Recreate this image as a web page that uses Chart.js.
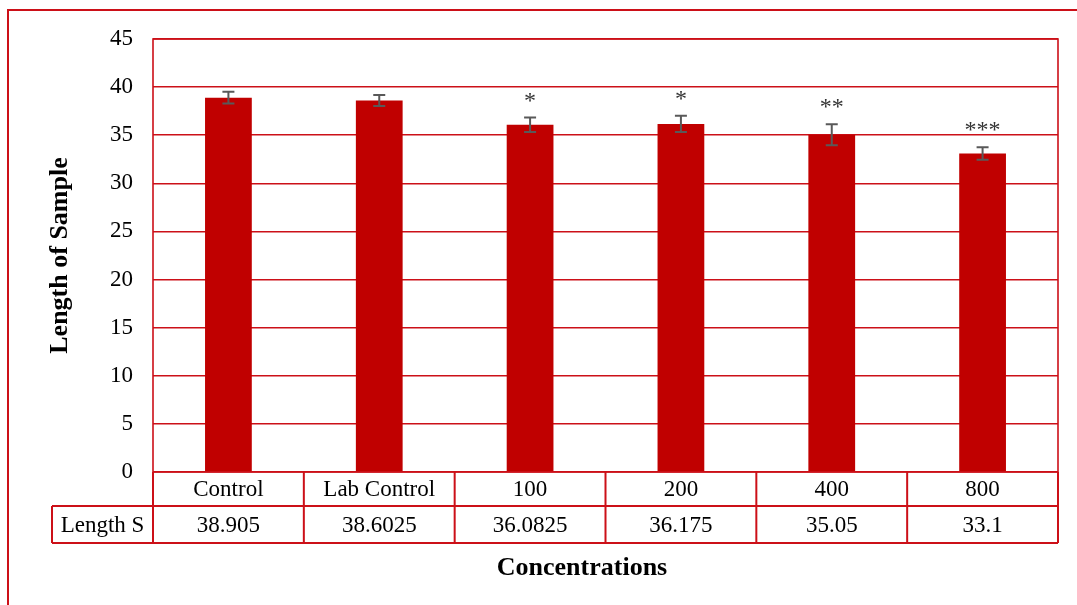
<!DOCTYPE html>
<html>
<head>
<meta charset="utf-8">
<script src="https://cdn.jsdelivr.net/npm/chart.js@4"></script>
<style>
  html, body { margin: 0; padding: 0; background: #fff; }
  #wrap { width: 1077px; height: 605px; position: relative; }
</style>
</head>
<body>
<div id="wrap"><canvas id="c" width="1077" height="605"></canvas></div>
<script>
const categories = ['Control', 'Lab Control', '100', '200', '400', '800'];
const lengthS = [38.905, 38.6025, 36.0825, 36.175, 35.05, 33.1];
const errors = [0.6, 0.57, 0.75, 0.85, 1.1, 0.65];
const stars = ['', '', '*', '*', '**', '***'];
const yTicks = [0, 5, 10, 15, 20, 25, 30, 35, 40, 45];

const RED = '#C00000';
const LINE = '#CC1018';
const SERIF = "'Liberation Serif', 'Times New Roman', serif";

// error bars, asterisks, data table and titles
const extras = {
  id: 'extras',
  afterDatasetsDraw(chart) {
    const { ctx, chartArea: a, scales: { x, y } } = chart;
    ctx.save();

    // error bars
    ctx.strokeStyle = '#595959';
    ctx.lineWidth = 2;
    lengthS.forEach((v, i) => {
      const px = x.getPixelForValue(i);
      const top = y.getPixelForValue(v + errors[i]);
      const bot = y.getPixelForValue(v - errors[i]);
      ctx.beginPath();
      ctx.moveTo(px, top); ctx.lineTo(px, bot);
      ctx.moveTo(px - 6, top); ctx.lineTo(px + 6, top);
      ctx.moveTo(px - 6, bot); ctx.lineTo(px + 6, bot);
      ctx.stroke();
      if (stars[i]) {
        ctx.fillStyle = '#333';
        ctx.font = '24px ' + SERIF;
        ctx.textAlign = 'center';
        ctx.textBaseline = 'alphabetic';
        ctx.fillText(stars[i], px, top - 10);
      }
    });

    // plot border
    ctx.strokeStyle = LINE;
    ctx.lineWidth = 1.6;
    ctx.strokeRect(a.left, a.top, a.right - a.left, a.bottom - a.top);

    // data table
    const colW = (a.right - a.left) / categories.length;
    const r1 = a.bottom, r2 = a.bottom + 34, r3 = a.bottom + 71;
    const labelLeft = 52;
    ctx.lineWidth = 2;
    ctx.beginPath();
    ctx.moveTo(labelLeft, r2); ctx.lineTo(a.right, r2);
    ctx.moveTo(labelLeft, r3); ctx.lineTo(a.right, r3);
    ctx.moveTo(labelLeft, r2); ctx.lineTo(labelLeft, r3);
    for (let i = 0; i <= categories.length; i++) {
      const cx = a.left + i * colW;
      ctx.moveTo(cx, r1); ctx.lineTo(cx, r3);
    }
    ctx.stroke();

    ctx.fillStyle = '#000';
    ctx.font = '23px ' + SERIF;
    ctx.textAlign = 'center';
    ctx.textBaseline = 'middle';
    categories.forEach((c, i) => {
      const cx = x.getPixelForValue(i);
      ctx.fillText(c, cx, (r1 + r2) / 2 + 1);
      ctx.fillText(String(lengthS[i]), cx, (r2 + r3) / 2 + 1);
    });
    ctx.fillText('Length S', (labelLeft + a.left) / 2, (r2 + r3) / 2 + 1);

    // axis titles
    ctx.font = 'bold 26px ' + SERIF;
    ctx.fillText('Concentrations', 582, 568);
    ctx.save();
    ctx.translate(60, (a.top + a.bottom) / 2);
    ctx.rotate(-Math.PI / 2);
    ctx.fillText('Length of Sample', 0, 0);
    ctx.restore();

    // outer frame
    ctx.strokeStyle = LINE;
    ctx.lineWidth = 2;
    ctx.beginPath();
    ctx.moveTo(8, 605); ctx.lineTo(8, 10); ctx.lineTo(1077, 10);
    ctx.stroke();

    ctx.restore();
  }
};

new Chart(document.getElementById('c').getContext('2d'), {
  type: 'bar',
  data: {
    labels: categories,
    datasets: [{
      data: lengthS,
      backgroundColor: RED,
      categoryPercentage: 1,
      barPercentage: 0.31
    }]
  },
  options: {
    responsive: false,
    animation: false,
    layout: { padding: { left: 0, top: 39, right: 19, bottom: 133 } },
    plugins: { legend: { display: false }, tooltip: { enabled: false } },
    scales: {
      x: { display: false },
      y: {
        min: 0,
        max: 45,
        afterFit: s => { s.width = 153; },
        afterBuildTicks: s => { s.ticks = yTicks.map(v => ({ value: v })); },
        grid: { color: LINE, lineWidth: 1.6, drawTicks: false },
        border: { display: false },
        ticks: {
          padding: 20,
          color: '#000',
          font: { size: 23, family: SERIF }
        }
      }
    }
  },
  plugins: [extras]
});
</script>
</body>
</html>
